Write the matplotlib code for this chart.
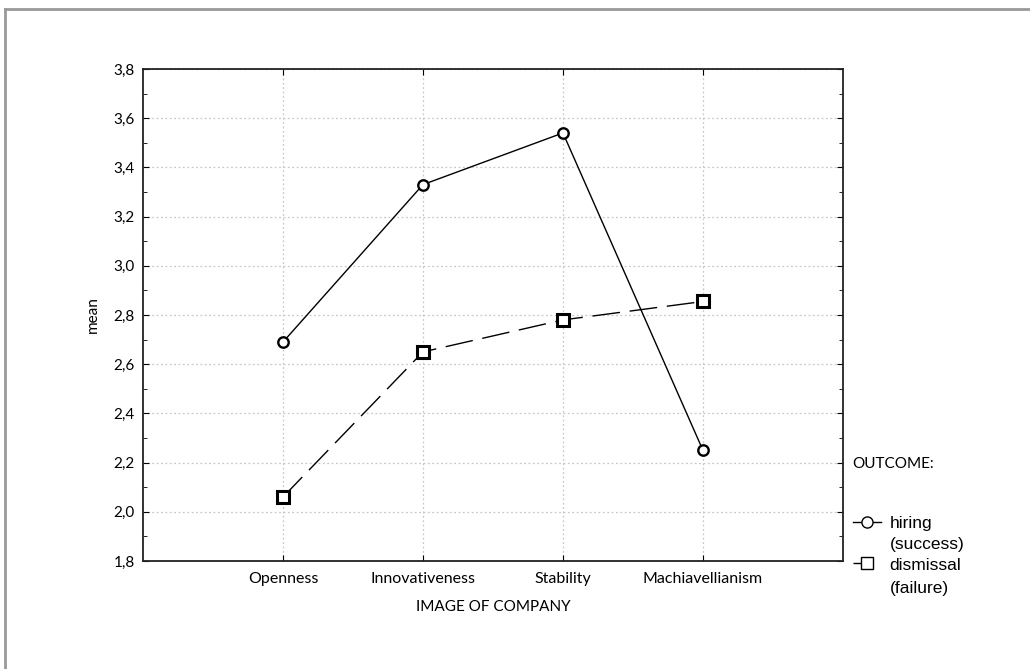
import matplotlib.pyplot as plt
from matplotlib.ticker import MultipleLocator, FuncFormatter
from matplotlib.lines import Line2D

categories = ['Openness', 'Innovativeness', 'Stability', 'Machiavellianism']
hiring = [2.69, 3.33, 3.54, 2.25]
dismissal = [2.06, 2.65, 2.78, 2.855]
series_names = ['hiring', 'dismissal']
series_notes = ['(success)', '(failure)']

plt.rcParams['font.family'] = ['Lato', 'DejaVu Sans']

fig = plt.figure(figsize=(10.30, 6.69), dpi=100)
ax = fig.add_axes([0.1388, 0.1614, 0.6796, 0.7355])

x = list(range(1, len(categories) + 1))

# Plot lines
ax.plot(x, hiring, '-', color='black', lw=1.0, marker='o', ms=7.5,
        mfc='white', mec='black', mew=1.7, zorder=3)
ax.plot(x, dismissal, color='black', lw=1.0, dashes=(20, 7), marker='s', ms=8,
        mfc='white', mec='black', mew=2.2, zorder=3)

# Axes setup
ax.set_xlim(0, 5)
ax.set_ylim(1.8, 3.8)
ax.set_xticks(x)
ax.set_xticklabels(categories, fontsize=11.5)
ax.yaxis.set_major_locator(MultipleLocator(0.2))
ax.yaxis.set_minor_locator(MultipleLocator(0.1))
ax.yaxis.set_major_formatter(FuncFormatter(lambda v, p: f'{v:.1f}'.replace('.', ',')))
ax.tick_params(axis='y', labelsize=11, length=4, direction='in', right=True, pad=6)
ax.tick_params(axis='y', which='minor', length=3, direction='in', right=True)
ax.tick_params(axis='x', length=4, direction='in', top=True, pad=8)
ax.grid(True, which='major', color='#c8c8c8', ls=(0, (1.5, 2)), lw=0.9)
for s in ax.spines.values():
    s.set_linewidth(1.3)
    s.set_color('#222222')

ax.set_xlabel('IMAGE OF COMPANY', fontsize=11, labelpad=10)
ax.set_ylabel('mean', fontsize=11, labelpad=10)

# Legend
fig.text(0.827, 0.306, 'OUTCOME:', fontsize=11, va='center', ha='left')
handles = [
    Line2D([], [], color='black', lw=1.0, marker='o', ms=8, mfc='white', mec='black', mew=1.0),
    Line2D([], [], color='black', lw=1.0, dashes=(9, 4.5, 1, 20), marker='s', ms=8,
           mfc='white', mec='black', mew=1.0),
]
leg = fig.legend(handles, series_names, loc='upper left', bbox_to_anchor=(0.828, 0.2287),
                 frameon=False, borderpad=0, borderaxespad=0, handlelength=1.65,
                 handletextpad=0.47, labelspacing=1.51,
                 prop={'family': 'Liberation Sans', 'size': 12.5})
fig.text(0.864, 1 - 545 / 669, series_notes[0], fontsize=12.5, family='Liberation Sans', va='center')
fig.text(0.864, 1 - 588 / 669, series_notes[1], fontsize=12.5, family='Liberation Sans', va='center')

# Frame border
fig.add_artist(Line2D([0.005, 0.005], [0.0, 0.987], color='#999999', lw=2.0))
fig.add_artist(Line2D([0.005, 1.0], [0.987, 0.987], color='#999999', lw=2.0))

fig.savefig('out.png', dpi=100)
